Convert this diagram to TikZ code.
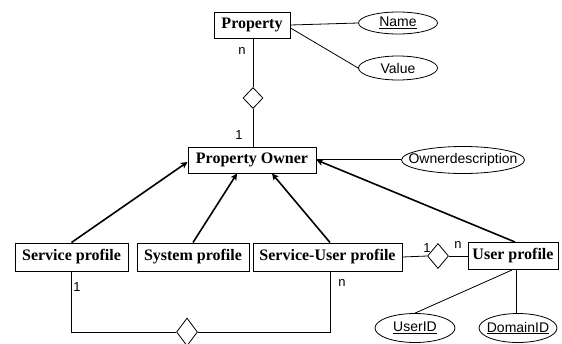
\documentclass[tikz,border=0pt]{standalone}
\usepackage{fontspec}
\setmainfont{Liberation Serif}
\setsansfont{Liberation Sans}
\usetikzlibrary{shapes.geometric,arrows.meta}
\newcommand{\zw}[1]{\makebox[0pt]{#1}}
\begin{document}
\begin{tikzpicture}[x=1pt,y=-1pt,
 entity/.style={draw,line width=1pt,inner sep=0pt,minimum height=26pt,font=\fontsize{16}{18}\selectfont\bfseries},
 attr/.style={draw,ellipse,line width=0.8pt,inner sep=0pt,font=\sffamily\fontsize{14}{16}\selectfont},
 rel/.style={draw,diamond,line width=0.8pt,inner sep=0pt,minimum width=21pt,minimum height=25pt},
 conn/.style={line width=0.8pt},
 isa/.style={line width=1.6pt,-{Stealth[length=6.5pt,width=6.5pt,inset=1.5pt]}},
 card/.style={font=\sffamily\fontsize{13}{15}\selectfont,inner sep=0pt}]
\useasboundingbox (0,0) rectangle (562,343);
\node[entity,minimum width=76pt] (prop) at (252,25) {Property};
\node[attr,minimum width=79pt,minimum height=22pt] (name) at (398,23) {\zw{\underline{Name}}};
\node[attr,minimum width=79pt,minimum height=24pt] (value) at (398,68) {\zw{Value}};
\node[rel,minimum width=20pt,minimum height=21pt] (d1) at (253,98) {};
\node[entity,minimum width=128pt] (po) at (252,160) {Property Owner};
\node[attr,minimum width=123pt,minimum height=27pt] (od) at (463,160) {\zw{Ownerdescription}};
\node[entity,minimum width=113pt,minimum height=28pt] (sp) at (71.5,257) {Service profile};
\node[entity,minimum width=112pt,minimum height=28pt] (syp) at (193,257) {System profile};
\node[entity,minimum width=149pt,minimum height=28pt] (sup) at (327.5,257) {Service-User profile};
\node[entity,minimum width=90pt,minimum height=27pt] (up) at (513,256) {User profile};
\node[rel] (d2) at (438,256) {};
\node[rel,minimum height=28pt] (d3) at (187,332) {};
\node[attr,minimum width=80pt,minimum height=29pt] (uid) at (415,328) {\zw{\underline{UserID}}};
\node[attr,minimum width=78pt,minimum height=29pt] (did) at (518,328) {\zw{\underline{DomainID}}};

\draw[conn] (prop.east) -- (name.west);
\draw[conn] ([yshift=-3pt]prop.east) -- (value.west);
\draw[conn] (d1.north) -- (d1.north |- prop.south);
\draw[conn] (d1.south) -- (d1.south |- po.north);
\node[card] (n1) at (242,51) {n};
\node[card] (c1) at (239,135) {1};

\draw[conn] ([yshift=1pt]od.west) -- ([yshift=1pt]po.east);
\draw[isa] (sp.north) -- ([yshift=-2pt]po.west);
\draw[isa] (syp.north) -- ([xshift=-15pt]po.south);
\draw[isa] ([xshift=2.5pt]sup.north) -- ([xshift=20pt]po.south);
\draw[isa] ([xshift=2pt]up.north) -- (po.east);

\draw[conn] (sup.east) -- (d2.west);
\draw[conn] (d2.east) -- (up.west);
\node[card] (c2) at (427,248) {1};
\node[card] (n2) at (458,245) {n};

\draw[conn] (sp.south) |- (d3.west);
\draw[conn] (d3.east) -| ([xshift=2.5pt]sup.south);
\node[card] (c3) at (77,287) {1};
\node[card] (n3) at (342,283) {n};

\draw[conn] ([xshift=-1pt]up.south) -- (uid.north);
\draw[conn] ([xshift=3pt]up.south) -- ([xshift=-2pt]did.north);
\end{tikzpicture}
\end{document}
